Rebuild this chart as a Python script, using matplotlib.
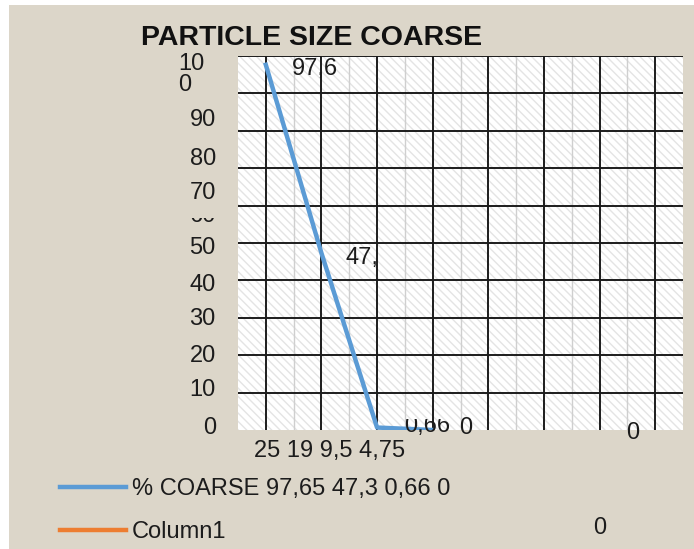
import numpy as np
import matplotlib
matplotlib.use("Agg")
import matplotlib.pyplot as plt
from matplotlib.patches import Rectangle
from matplotlib.transforms import ScaledTranslation, Bbox

# data
categories = ["25", "19", "9,5", "4,75", "", "", "", ""]
coarse = [97.65, 47.3, 0.66, 0]
coarse_labels = ["97,6", "47,", "0,66", "0"]
coarse_name = "% COARSE 97,65 47,3 0,66 0"
column1_name = "Column1"
column1_label = "0"
y_ticks = [0, 10, 20, 30, 40, 50, 60, 70, 80, 90, 100]
y_tick_labels = ["0", "10", "20", "30", "40", "50", "60", "70", "80", "90", "10\n0"]

plt.rcParams['font.family'] = ['Liberation Sans', 'DejaVu Sans']

W, H = 694, 549
bg = '#dcd6c9'
ink = '#1c1c1c'
blue = '#5b9bd5'
orange = '#ed7d31'

fig = plt.figure(figsize=(W / 100, H / 100), dpi=100)
fig.patch.set_facecolor('white')
fig.add_artist(Rectangle((9 / W, 0), 1, 1 - 5 / H, transform=fig.transFigure,
                         facecolor=bg, edgecolor='none', zorder=-10))

ax = fig.add_axes([238 / W, 1 - 430 / H, (683 - 238) / W, (430 - 56) / H])
ax.set_facecolor('white')
ax.add_patch(Rectangle((0, 0), 1, 1, transform=ax.transAxes, facecolor='none',
                       edgecolor='#e4e4e4', hatch='\\\\\\\\', lw=0, zorder=0))

x = np.arange(len(categories))
ax.set_xlim(-0.5, len(categories) - 0.5)
ax.set_ylim(0, 100)

# grid
ax.vlines(x[:-1] + 0.5, 0, 100, color='#cfcfcf', lw=1.0, zorder=1)
ax.vlines(x, 0, 100, color=ink, lw=1.4, zorder=2)
ax.hlines(y_ticks[1:], -0.5, len(categories) - 0.5, color=ink, lw=1.4, zorder=2)

ax.plot(x[:len(coarse)], coarse, color=blue, lw=3.2, zorder=3, label=coarse_name)
ax.plot([], [], color=orange, lw=3.2, label=column1_name)

for s in ax.spines.values():
    s.set_visible(False)
ax.set_xticks([])
ax.set_yticks(y_ticks)
ax.set_yticklabels(y_tick_labels, fontsize=17, color=ink)
ax.tick_params(axis='y', length=0, pad=16)

# label offsets (px, up positive) as seen in the screenshot
shifts = [4, 5, 2, 1, -2, -3, -8, -22, -26, -24, -16]
for lab, s in zip(ax.get_yticklabels(), shifts):
    lab.set_transform(lab.get_transform() + ScaledTranslation(0, s / 100, fig.dpi_scale_trans))
ylabs = ax.get_yticklabels()
ylabs[-1].set_multialignment('left')
ylabs[-1].set_linespacing(0.95)
ylabs[-1].set_transform(ylabs[-1].get_transform() + ScaledTranslation(-0.11, 0, fig.dpi_scale_trans))
ylabs[6].set_clip_on(True)
ylabs[6].set_clip_box(Bbox.from_extents(0, 0, W, H - 218))

# category labels squeezed together under the axis
ax.annotate(" ".join(c for c in categories if c), xy=(1.15, 0),
            xycoords=('data', 'axes fraction'), xytext=(0, -21),
            textcoords='offset pixels', ha='center', va='center', fontsize=17, color=ink)

# data labels
offsets = [(49, -4), (41, -5), (50, 1.5), (33, 2)]
for xi, v, t, off in zip(x, coarse, coarse_labels, offsets):
    a = ax.annotate(t, xy=(xi, v), xytext=off, textcoords='offset pixels',
                    ha='center', va='center', fontsize=17, color=ink, zorder=4,
                    annotation_clip=False)
    if t == "0,66":
        a.set_clip_on(True)
        a.set_clip_box(Bbox.from_extents(0, 0, W, H - 419))

fig.text(633 / W, 1 - 433 / H, column1_label, ha='center', va='center', fontsize=17, color=ink)

fig.text(312 / W, 1 - 38 / H, "PARTICLE SIZE COARSE", ha='center', va='center',
         fontsize=20.5, fontweight='bold', color='#111111')

fig.legend(loc='upper left', bbox_to_anchor=(60 / W, 1 - 478 / H), frameon=False,
           fontsize=17, handlelength=2.8, handletextpad=0.25, labelspacing=0.88,
           borderpad=0, borderaxespad=0, labelcolor=ink)
fig.text(600 / W, 1 - 528 / H, column1_label, ha='center', va='center', fontsize=17, color=ink)

fig.savefig("out.png", dpi=100, facecolor=fig.get_facecolor())
